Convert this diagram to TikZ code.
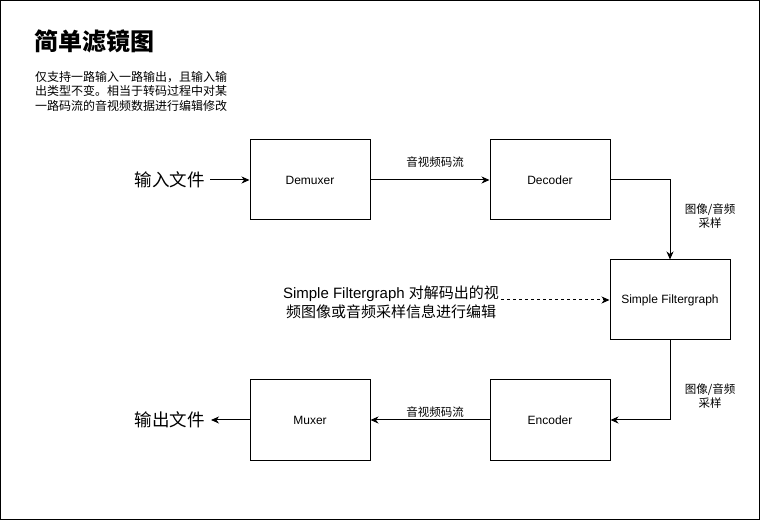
\documentclass[tikz,border=0pt]{standalone}
\usepackage{fontspec}
\setmainfont{Liberation Sans}
\newfontfamily\cjk{Noto Sans CJK SC}
\usetikzlibrary{arrows.meta}
\begin{document}
\begin{tikzpicture}[x=1pt,y=-1pt,
  box/.style={draw,line width=1pt,minimum width=120pt,minimum height=80pt,inner sep=0pt,font=\fontsize{12}{14}\selectfont},
  flow/.style={line width=1pt,-{Stealth[length=8pt,width=7pt,inset=2.5pt]}},
  lab/.style={inner sep=0pt,align=center,font=\cjk\fontsize{11.5}{14}\selectfont},
  big/.style={inner sep=0pt,font=\cjk\fontsize{17.5}{20}\selectfont},
]
\useasboundingbox (0,0) rectangle (761,521);
\draw[line width=1.3pt] (0.8,0.8) rectangle (759.8,519.8);

\node[anchor=west,inner sep=0pt,font=\cjk\bfseries\fontsize{24}{28}\selectfont] (title) at (34,41) {简单滤镜图};
\node[anchor=north west,align=left,inner sep=0pt,font=\cjk\fontsize{12}{14.5}\selectfont] (desc) at (35,71) {仅支持一路输入一路输出，且输入输\\出类型不变。相当于转码过程中对某\\一路码流的音视频数据进行编辑修改};

\node[box] (demux) at (310,180) {Demuxer};
\node[box] (dec) at (550,180) {Decoder};
\node[box] (sfg) at (670,300) {Simple Filtergraph};
\node[box] (enc) at (550,420) {Encoder};
\node[box] (mux) at (310,420) {Muxer};

\node[big,anchor=east] (in) at (205,180) {输入文件};
\node[big,anchor=east] (out) at (205,420) {输出文件};

\node[align=center,inner sep=0pt,font=\fontsize{15}{19}\selectfont] (note) at (391,302) {Simple Filtergraph {\cjk 对解码出的视}\\{\cjk 频图像或音频采样信息进行编辑}};

\draw[flow,shorten <=5pt] (in) -- (demux);
\draw[flow] (demux) -- (dec) node[lab,midway,xshift=5pt,yshift=18pt] (l1) {音视频码流};
\draw[flow] (dec.east) -| (sfg.north);
\node[lab] (l2) at (710,216) {图像/音频\\采样};
\draw[flow] (sfg.south) |- (enc.east);
\node[lab] (l3) at (710,396) {图像/音频\\采样};
\draw[flow] (enc) -- (mux) node[lab,midway,xshift=5pt,yshift=8pt] (l4) {音视频码流};
\draw[flow,shorten >=6pt] (mux) -- (out);
\draw[flow,dash pattern=on 3pt off 3pt,shorten <=2pt] (note.east |- sfg.west) -- (sfg.west);
\end{tikzpicture}
\end{document}
